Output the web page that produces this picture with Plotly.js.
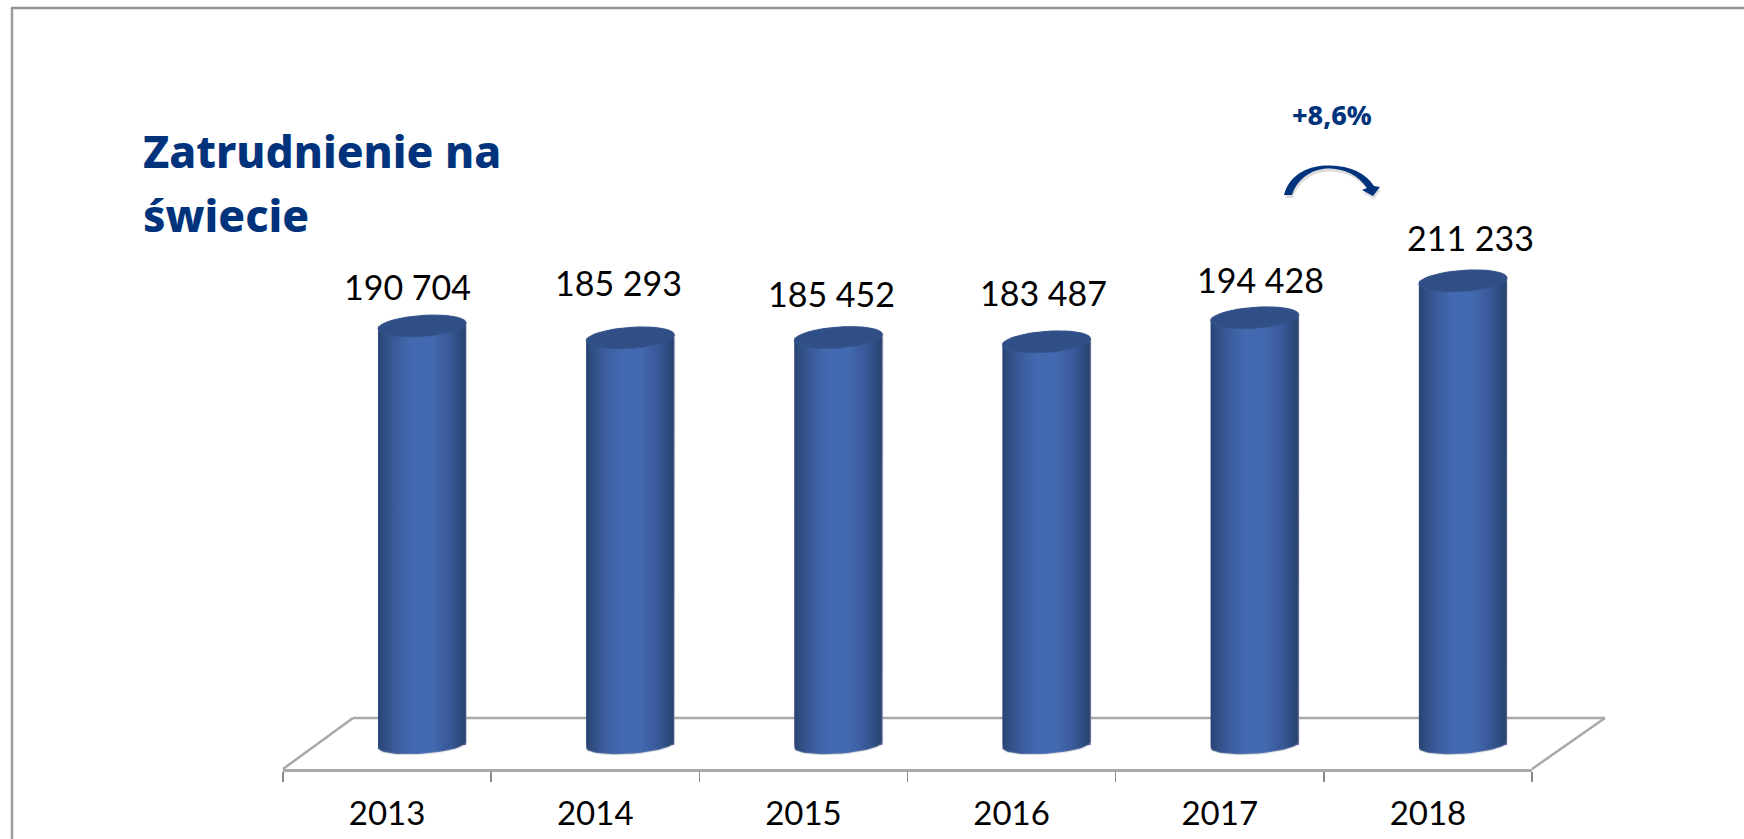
<!DOCTYPE html>
<html>
<head>
<meta charset="utf-8">
<script src="https://cdn.plot.ly/plotly-3.0.1.min.js"></script>
<style>html,body{margin:0;padding:0;background:#fff;overflow:hidden}#chart{width:1744px;height:839px}</style>
</head>
<body>
<div id="chart"></div>
<script>
// Data
var years = ['2013', '2014', '2015', '2016', '2017', '2018'];
var employment = [190704, 185293, 185452, 183487, 194428, 211233];
var valueLabels = ['190 704', '185 293', '185 452', '183 487', '194 428', '211 233'];

// Hand-placed label nudges in the reference (pixels)
var labelDx = [-15, -12, -7, -3, 6, 8];
var labelDy = [40, 55, 44, 49, 38, 43];

// Page geometry
var W = 1744, H = 839;
var M = {l: 283, r: 212, t: 40, b: 70};
var pxPerX = (W - M.l - M.r) / 6;
var pxPerY = 0.002197;
var baseBottomPx = 24;   // zero line above the front floor edge
var yMin = -baseBottomPx / pxPerY;
var yMax = yMin + (H - M.t - M.b) / pxPerY;

// Cylinder geometry in axis units
var depthX = 35 / pxPerX;
var halfW = 44 / pxPerX;
var ellB = 10.5 / pxPerY;
var ellBaseB = 8.8 / pxPerY;
var ellTilt = 3 / pxPerY;

var bodyScale = [
  [0, '#2a4272'], [0.07, '#304e84'], [0.2, '#3a5c9b'], [0.38, '#4369b0'],
  [0.62, '#4369b0'], [0.8, '#39599a'], [0.93, '#2e4a7e'], [1, '#283f6c']
];

function ellipse(cx, cy, b, from, to, n) {
  var xs = [], ys = [];
  for (var i = 0; i <= n; i++) {
    var t = from + (to - from) * i / n;
    xs.push(cx + halfW * Math.cos(t));
    ys.push(cy + b * Math.sin(t) + ellTilt * Math.cos(t));
  }
  return {x: xs, y: ys};
}

var traces = [];

// Data bars (base layer of each cylinder)
traces.push({
  type: 'bar', x: years.map(function (_, i) { return i + depthX; }), y: employment,
  width: halfW * 2, marker: {color: '#3d62a6', line: {width: 0}},
  hovertemplate: '%{y}<extra></extra>', showlegend: false
});

// Rounded cylinder bodies and lids
employment.forEach(function (v, i) {
  var cx = i + depthX;
  var top = ellipse(cx, v, ellB, Math.PI, 0, 30);          // left to right over the lid
  var bottom = ellipse(cx, 0, ellBaseB, 0, -Math.PI, 30);  // right to left under the base
  traces.push({
    type: 'scatter', mode: 'lines', hoverinfo: 'skip', showlegend: false, cliponaxis: false,
    x: top.x.concat(bottom.x), y: top.y.concat(bottom.y),
    fill: 'toself', line: {color: 'rgba(140,150,170,0.3)', width: 2},
    fillgradient: {type: 'horizontal', colorscale: bodyScale}
  });
  var lid = ellipse(cx, v, ellB, 0, 2 * Math.PI, 60);
  traces.push({
    type: 'scatter', mode: 'lines', hoverinfo: 'skip', showlegend: false, cliponaxis: false,
    x: lid.x, y: lid.y, fill: 'toself', fillcolor: '#304f86',
    line: {color: '#35558e', width: 1}
  });
});

// Pixel to paper helpers for the frame, floor, callout arrow and text
function px(x) { return (x - M.l) / (W - M.l - M.r); }
function py(y) { return 1 - (y - M.t) / (H - M.t - M.b); }
function P(x, y) { return px(x).toFixed(5) + ',' + py(y).toFixed(5); }

var arrowOuter = 'M' + P(1284, 195) +
  ' C' + P(1290, 172) + ' ' + P(1312, 165) + ' ' + P(1330, 165.5) +
  ' C' + P(1350, 166) + ' ' + P(1366, 173) + ' ' + P(1374, 186) +
  ' L' + P(1380, 187) + ' L' + P(1373, 196) + ' L' + P(1362, 190) + ' L' + P(1367, 188) +
  ' C' + P(1358, 175) + ' ' + P(1345, 169) + ' ' + P(1330, 168.5) +
  ' C' + P(1314, 168) + ' ' + P(1298, 177) + ' ' + P(1292, 195) + ' Z';
var arrowShadow = arrowOuter.replace(/([\d.\-]+),([\d.\-]+)/g, function (m, a, b) {
  return (parseFloat(a) + 1 / (W - M.l - M.r)).toFixed(5) + ',' + (parseFloat(b) - 3 / (H - M.t - M.b)).toFixed(5);
});

var floorLine = {color: '#a9a9a9', width: 2.5};
function seg(x0, y0, x1, y1, line) {
  return {type: 'line', xref: 'paper', yref: 'paper', layer: 'below',
          x0: px(x0), y0: py(y0), x1: px(x1), y1: py(y1), line: line};
}

var titleStyle = 'font-size:44.3px';
var layout = {
  width: W, height: H, margin: M, autosize: false,
  paper_bgcolor: '#ffffff', plot_bgcolor: 'rgba(0,0,0,0)',
  showlegend: false, barmode: 'overlay',
  title: {
    text: '<span style="' + titleStyle + '">Zatrudnienie na</span><br><span style="' + titleStyle + '">świecie</span>',
    font: {family: '"Noto Sans", sans-serif', size: 49, weight: 800, color: '#00337c'},
    x: 143 / W, xanchor: 'left', xref: 'container',
    y: 1 - 168 / H, yanchor: 'top', yref: 'container'
  },
  xaxis: {
    type: 'linear', range: [-0.5, 5.5], fixedrange: true,
    tickmode: 'array', tickvals: [0, 1, 2, 3, 4, 5], ticktext: years,
    ticks: '', ticklabelstandoff: 14, showgrid: false, zeroline: false,
    showline: true, linecolor: '#a9a9a9', linewidth: 2.5,
    tickfont: {family: 'Lato, sans-serif', size: 33, color: '#000000'},
    minor: {tickmode: 'array', tickvals: [-0.5, 0.5, 1.5, 2.5, 3.5, 4.5, 5.5],
            ticks: 'outside', ticklen: 10, tickwidth: 1.5, tickcolor: '#8a8a8a', showgrid: false}
  },
  yaxis: {
    range: [yMin, yMax], visible: false, fixedrange: true, showgrid: false, zeroline: false
  },
  shapes: [
    seg(283, 769, 353, 718, floorLine),
    seg(353, 718, 1605, 718, floorLine),
    seg(1605, 718, 1532, 769, floorLine),
    {type: 'line', xref: 'paper', yref: 'paper', x0: px(12), x1: px(12), y0: py(8), y1: py(839),
     line: {color: '#9c9c9c', width: 2.5}},
    {type: 'line', xref: 'paper', yref: 'paper', x0: px(11), x1: px(1744), y0: py(8), y1: py(8),
     line: {color: '#949494', width: 2.5}},
    {type: 'path', xref: 'paper', yref: 'paper', path: arrowShadow, fillcolor: 'rgba(90,90,90,0.22)', line: {width: 0}},
    {type: 'path', xref: 'paper', yref: 'paper', path: arrowOuter, fillcolor: '#00337c', line: {width: 0}}
  ],
  annotations: employment.map(function (v, i) {
    return {
      x: i + depthX, y: v, xref: 'x', yref: 'y', text: valueLabels[i], showarrow: false,
      xanchor: 'center', yanchor: 'middle', xshift: labelDx[i], yshift: labelDy[i],
      font: {family: 'Lato, sans-serif', size: 34, color: '#000000'}
    };
  }).concat([{
    x: px(1332), y: py(115), xref: 'paper', yref: 'paper', text: '+8,6%', showarrow: false,
    xanchor: 'center', yanchor: 'middle',
    font: {family: '"Noto Sans", sans-serif', size: 27, weight: 800, color: '#00337c'}
  }])
};

Plotly.newPlot('chart', traces, layout, {displayModeBar: false, staticPlot: true});
</script>
</body>
</html>
